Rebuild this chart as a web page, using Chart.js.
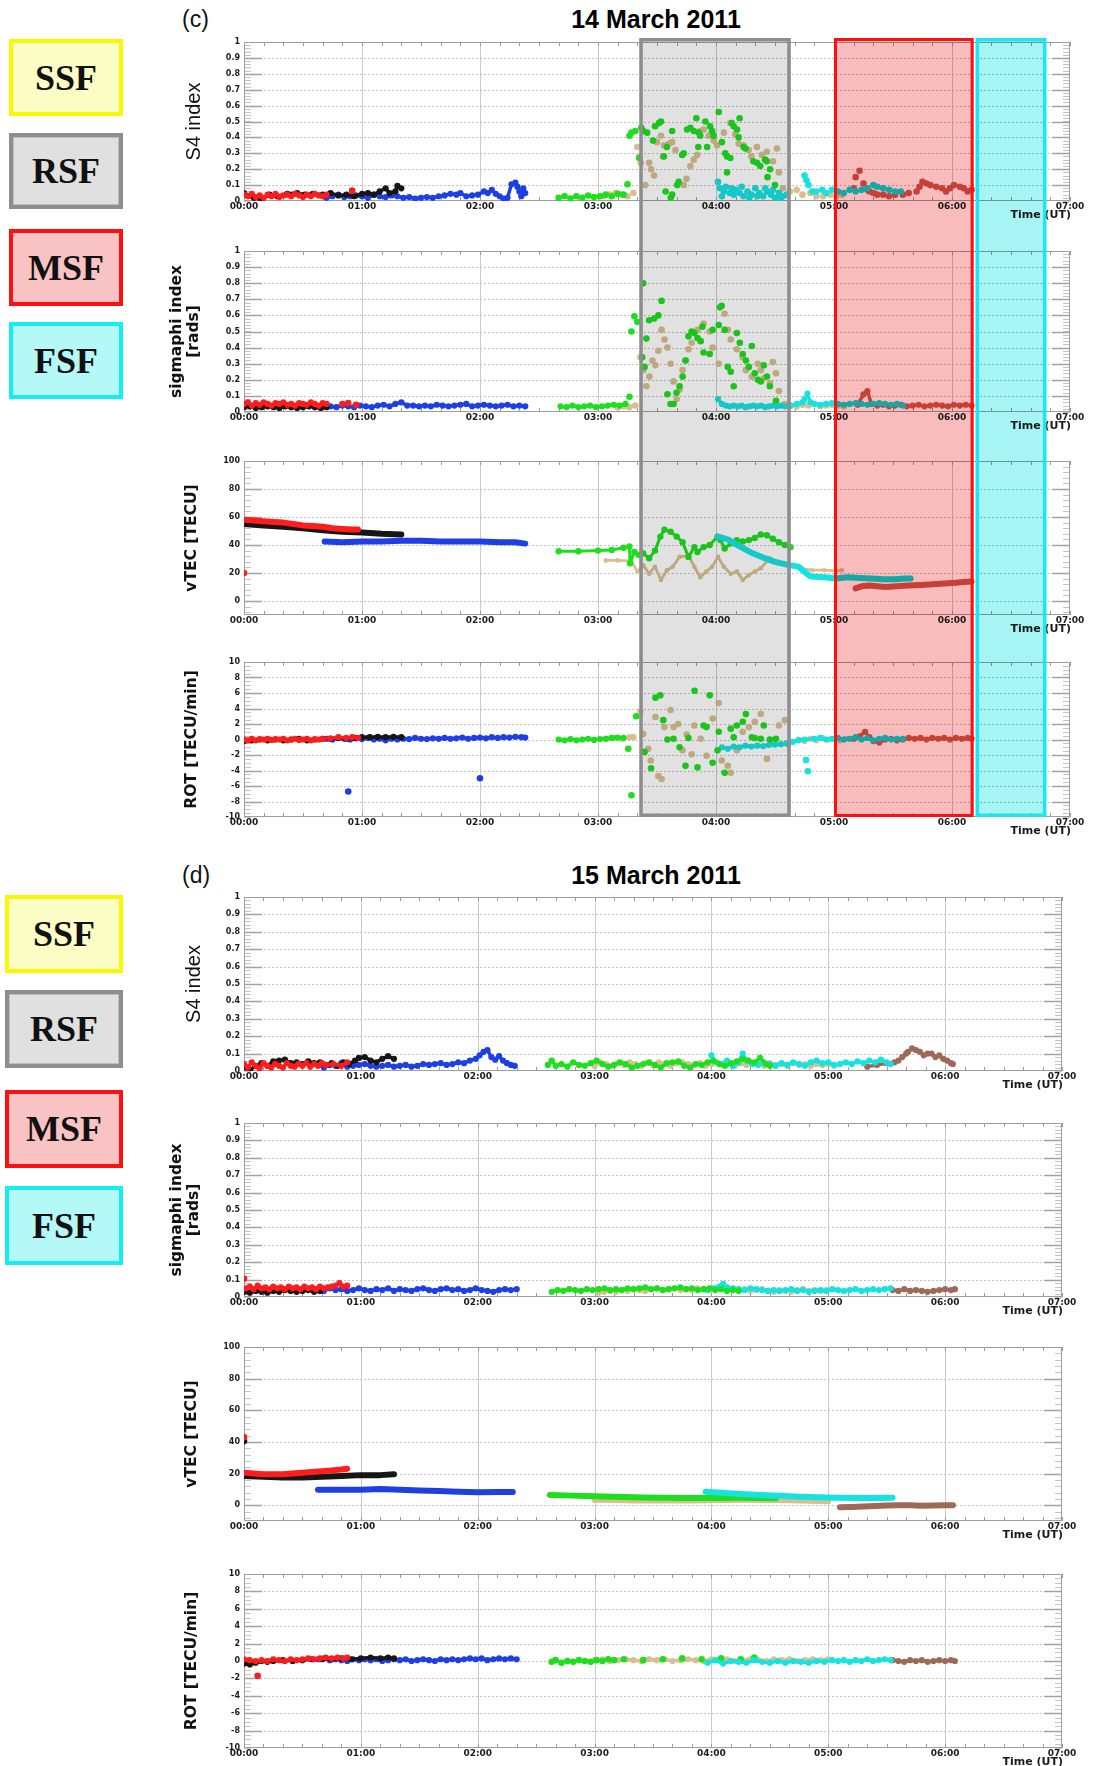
<!DOCTYPE html>
<html>
<head>
<meta charset="utf-8">
<title>Scintillation and TEC, 14-15 March 2011</title>
<script src="https://cdn.jsdelivr.net/npm/chart.js@4.4.1/dist/chart.umd.min.js"></script>
<style>
  html, body { margin: 0; padding: 0; background: #fff; }
  #page { position: relative; width: 1094px; height: 1766px; overflow: hidden; font-family: "Liberation Sans", Arial, sans-serif; }
  .key { position: absolute; box-sizing: border-box; display: flex; align-items: center; justify-content: center;
         font-family: "Liberation Serif", "Times New Roman", serif; font-weight: bold; font-size: 36px; color: #111; }
  .tag { position: absolute; font-size: 23px; color: #111; line-height: 1; }
  .day { position: absolute; font-size: 25px; font-weight: bold; color: #000; transform: translateX(-50%); white-space: nowrap; line-height: 1; }
  canvas { position: absolute; left: 150px; }
</style>
</head>
<body>
<div id="page"></div>
<script>
// ---------- axis ticks and labels ----------
const hourTicks  = [0, 60, 120, 180, 240, 300, 360, 420];
const hourLabels = ['00:00', '01:00', '02:00', '03:00', '04:00', '05:00', '06:00', '07:00'];
const indexTicks  = [0, 0.1, 0.2, 0.3, 0.4, 0.5, 0.6, 0.7, 0.8, 0.9, 1];
const indexLabels = ['0', '0.1', '0.2', '0.3', '0.4', '0.5', '0.6', '0.7', '0.8', '0.9', '1'];
const tecTicks  = [-10, 0, 20, 40, 60, 80, 100];
const tecLabels = ['', '0', '20', '40', '60', '80', '100'];
const rotTicks  = [-10, -8, -6, -4, -2, 0, 2, 4, 6, 8, 10];
const rotLabels = ['-10', '-8', '-6', '-4', '-2', '0', '2', '4', '6', '8', '10'];

const legendLabels = ['SSF', 'RSF', 'MSF', 'FSF'];
const dayTitles = ['14 March 2011', '15 March 2011'];
const panelTags = ['(c)', '(d)'];

// spread-F intervals on 14 March (minutes after 00:00 UT)
const mar14_spreadF = [['RSF', 201, 278], ['MSF', 300, 371], ['FSF', 372, 408]];

// ---------- 14 March 2011: S4 index ([minute, value]) ----------
const mar14_s4_red = [[0,.04],[2,.03],[4,.045],[6,.025],[8,.035],[10,.02],[12,.04],[14,.03],[16,.045],[18,.025],[20,.035],[22,.04],[24,.03],[26,.045],[28,.035],[30,.025],[32,.04],[34,.03],[36,.045],[38,.035],[40,.03],[42,.04]];
const mar14_s4_red_late = [[55,.065]];
const mar14_s4_black = [[0,.05],[5,.02],[9,.01],[13,.04],[17,.03],[22,.045],[27,.05],[31,.04],[35,.045],[40,.04],[44,.05],[48,.035],[52,.04],[56,.03],[60,.045],[63,.05],[66,.04],[69,.06],[72,.08],[74,.05],[77,.06],[78,.095],[80,.08]];
const mar14_s4_blue = [[42,.02],[45,.03],[48,.04],[51,.025],[54,.03],[57,.035],[60,.03],[63,.02],[66,.04],[69,.03],[72,.025],[75,.035],[78,.03],[81,.02],[84,.025],[87,.015],[90,.02],[93,.025],[96,.02],[99,.03],[102,.035],[105,.045],[108,.04],[110,.05],[113,.03],[116,.035],[119,.04],[122,.06],[124,.05],[126,.07],[128,.045],[130,.03],[132,.015],[134,.02],[136,.105],[138,.115],[139,.09],[140,.06],[141,.03],[142,.08],[143,.05]];
const mar14_s4_green = [[160,.02],[163,.03],[166,.015],[169,.03],[172,.02],[175,.035],[178,.025],[181,.03],[184,.04],[187,.03],[190,.045],[193,.04],[195,.105],
  [196,.41],[197,.43],[199,.44],[201,.27],[202,.46],[203,.44],[205,.43],[208,.38],[209,.47],[211,.49],[212,.5],[213.5,.28],[215,.34],[217.7,.44],[214.4,.06],[217.7,.04],[217,.02],[220.3,.1],[221,.12],[222.8,.29],[223.6,.3],[225.3,.45],[227,.46],[228.7,.44],[230,.52],[231.2,.43],[232,.41],[231,.34],[234.6,.5],[237,.47],[238,.44],[238.8,.41],[235.5,.34],[241.4,.56],[243,.37],[244.7,.3],[245.6,.28],[247.3,.27],[248,.49],[249,.47],[250.7,.45],[252,.52],[251.5,.4],[245.6,.18],[254,.34],[255,.33],[259,.25],[260.8,.24],[262.5,.22],[265,.26],[265.8,.25],[266.2,.15],[267.5,.2],[270,.1]];
const mar14_s4_tan = [[183,.03],[186,.04],[189,.05],[192,.04],[195,.03],[198,.05],[200,.34],[201,.28],[201.7,.24],[204,.1],[206,.24],[207,.2],[208.5,.16],[210,.37],[212,.41],[213.5,.35],[216,.36],[217.7,.37],[219.4,.32],[213,.28],[223.6,.1],[225,.14],[227,.22],[228.7,.26],[230.4,.29],[232,.44],[233.8,.45],[236.3,.41],[238.8,.38],[240.5,.35],[244,.43],[247.3,.49],[249.8,.42],[251.5,.36],[254,.35],[256.6,.32],[258,.28],[260.8,.34],[263.3,.29],[265.8,.31],[269,.25],[271,.33],[272,.18],[274,.08],[277.6,.06],[281,.07],[284,.04],[288,.05],[291,.03],[294.5,.03],[298,.04],[301,.03],[304,.04]];
const mar14_s4_cyan = [[241,.12],[242,.08],[243,.03],[244,.06],[245,.09],[247,.05],[248,.08],[249,.04],[250,.07],[252,.05],[253,.09],[254,.03],[256,.06],[257,.02],[258,.04],[260,.08],[261,.03],[262,.05],[264,.03],[265,.08],[266,.06],[268,.04],[269,.07],[270,.02],[272,.05],[273,.02],[274,.03],[276,.04],[285,.16],[286,.13],[287,.1],[289,.06],[291,.06],[294,.07],[296,.05],[299,.07],[302,.06],[305,.05],[308,.07],[311,.06],[314,.07],[317,.08],[320,.1],[322,.09],[325,.08],[328,.07],[331,.06],[334,.06]];
const mar14_s4_indian = [[310,.08],[311,.15],[313,.19],[315,.11],[317,.07],[318,.06],[320,.05],[322,.04],[325,.04],[328,.03],[331,.04],[335,.04],[338,.05],[342,.06],[343.5,.09],[345,.12],[347,.11],[349,.1],[352,.09],[355,.08],[357,.06],[359,.08],[361,.1],[364,.09],[366,.08],[368,.06],[370,.07]];

// ---------- 14 March 2011: sigmaphi index ----------
const mar14_sp_red = [[0,.05],[2,.06],[4,.04],[6,.055],[8,.045],[10,.06],[12,.05],[14,.04],[16,.055],[18,.05],[20,.06],[22,.045],[24,.05],[26,.04],[28,.055],[30,.05],[32,.045],[34,.06],[36,.05],[38,.04],[40,.055],[42,.05]];
const mar14_sp_red_late = [[50,.05],[53,.055],[57,.045]];
const mar14_sp_black = [[0,.03],[3,.035],[6,.025],[9,.03],[12,.035],[15,.03],[18,.025],[21,.035],[24,.03],[27,.025],[30,.03],[33,.035],[36,.03],[39,.025],[42,.03]];
const mar14_sp_blue = [[44,.035],[47,.03],[50,.04],[53,.035],[56,.03],[59,.04],[62,.035],[65,.03],[68,.04],[71,.045],[74,.035],[77,.05],[80,.06],[83,.04],[86,.04],[89,.035],[92,.04],[95,.035],[98,.045],[101,.04],[104,.035],[107,.04],[110,.045],[113,.05],[116,.035],[119,.04],[122,.045],[125,.04],[128,.035],[131,.04],[134,.045],[137,.035],[140,.04],[143,.035]];
const mar14_sp_green_low = [[161,.035],[164,.03],[167,.04],[170,.03],[173,.035],[176,.04],[179,.03],[182,.035],[185,.04],[188,.045],[191,.04],[194,.05]];
const mar14_sp_green = [[196,.095],
  [197,.5],[198.5,.595],[200,.56],[203,.8],[202.5,.34],[203.7,.28],[204.6,.456],[206,.57],[208.6,.58],[210.7,.6],[212.3,.69],[215.3,.11],[216.9,.05],[218.4,.05],[219.9,.12],[221.5,.16],[223,.22],[224.5,.32],[226,.47],[227.6,.5],[229,.49],[230.6,.46],[232.2,.44],[233.1,.53],[233.7,.37],[236.8,.36],[238.3,.51],[241.4,.54],[242,.65],[242.9,.66],[244.4,.51],[246,.28],[247.5,.25],[249,.16],[250.6,.49],[252.1,.43],[253.6,.36],[255.2,.32],[256.7,.28],[258.2,.41],[259.7,.24],[261.3,.2],[262.8,.19],[264.3,.29],[265.9,.22],[267.4,.16],[270.5,.07]];
const mar14_sp_tan = [[190,.03],[193,.035],[196,.03],[199,.04],[201.5,.34],[203,.26],[204.6,.16],[206.1,.22],[207.7,.32],[209.2,.29],[210.7,.38],[212.3,.51],[213.8,.45],[215.3,.4],[216.9,.3],[218.4,.19],[220,.08],[221.5,.14],[223,.26],[224.5,.32],[226,.39],[227.6,.43],[230.6,.51],[233.7,.55],[236.8,.5],[238.3,.4],[241.4,.3],[244.4,.61],[246,.51],[247.5,.45],[250.6,.39],[253.6,.34],[255.2,.26],[258.2,.22],[261.3,.3],[262.8,.26],[264.3,.21],[267.4,.18],[268.9,.31],[270.5,.24],[272,.13],[275,.05],[278,.04],[281,.035],[284,.045],[287,.04],[290,.05],[293,.035],[296,.04],[299,.045],[302,.04],[305,.035]];
const mar14_sp_cyan = [[241,.08],[243,.05],[245,.04],[247,.035],[249,.04],[251,.035],[253,.04],[255,.03],[257,.035],[259,.04],[261,.035],[263,.04],[265,.03],[267,.035],[269,.04],[271,.035],[273,.04],[275,.035],[278,.04],[281,.05],[284,.06],[285,.08],[286.5,.115],[288,.06],[290,.05],[293,.045],[296,.05],[299,.055],[302,.05],[305,.045],[308,.05],[311,.055],[314,.05],[317,.045],[320,.05],[323,.055],[326,.05],[329,.045],[332,.05],[335,.04]];
const mar14_sp_indian = [[312,.045],[315,.11],[317,.13],[319,.05],[322,.04],[325,.045],[328,.035],[331,.04],[334,.045],[337,.035],[340,.04],[343,.045],[346,.035],[349,.04],[352,.045],[355,.04],[358,.035],[361,.045],[364,.04],[367,.045],[370,.04]];

// ---------- 14 March 2011: vTEC [TECU] ----------
const mar14_tec_red = [[0,58],[5,57.5],[10,57],[15,56.5],[20,56],[25,55],[30,54],[35,53.5],[40,53],[45,52],[50,51.5],[55,51],[58,51]];
const mar14_tec_red_start = [[0,20]];
const mar14_tec_black = [[0,55],[10,54],[20,53],[30,52],[40,50.5],[50,49.5],[60,49],[70,48],[80,47.5]];
const mar14_tec_blue = [[41,42.5],[50,42],[60,42.5],[70,42.5],[80,43],[90,43],[100,42.5],[110,42.5],[120,42.5],[130,42],[138,42],[143,41]];
const mar14_tec_green = [[160,35.5],[170,35.5],[180,36],[187,36.5],[193,38],[196,39],[196.3,27],[198.5,35],[200.6,33],[203,34],[206,30.5],[209,36],[211.7,46],[213.8,51],[216.9,49.5],[220,46],[223,42],[226,31.5],[229,38.5],[230.6,35],[233.7,38.5],[236.8,40],[240.8,46],[242.3,43.5],[244.4,37.5],[247.5,41],[250.6,43.5],[253.6,42.5],[256.7,43.5],[259.7,45],[262.8,47.5],[265.9,47],[268.9,44.5],[272,42],[275,40],[278,38.5]];
const mar14_tec_tan = [[184,29],[190,29],[197,28.5],[200,21],[203,25.5],[206,19.5],[209,24.5],[212,15],[215,22],[218,24.5],[221.5,31.5],[226,32.5],[229,24.5],[232,17],[235,21],[238,24.5],[241,31.5],[244,24.5],[247.5,19.5],[250.6,21],[253.6,15],[256.7,18.5],[259.7,21],[262.8,23.5],[267.4,30.5],[272,28],[276.6,25.5],[282.7,23.5],[288.8,22],[295,22],[301,21.5],[304,22]];
const mar14_tec_cyan = [[241,46],[246,44],[252,39],[258,34.5],[264,31],[270,28],[276,26],[282,24.5],[285,21],[288,17.5],[295,17],[301,16],[307,17],[313,16.5],[319,16],[325,15.5],[331,15.5],[336,16],[339,16]];
const mar14_tec_indian = [[311,9],[314,10.5],[318,11],[322,10.5],[326,10],[332,10.5],[338,11],[344,11.5],[350,12],[356,12.5],[362,13],[366,13.5],[370,14]];

// ---------- 14 March 2011: ROT [TECU/min] ----------
const mar14_rot_red = [[0,0],[2,-.1],[4,.1],[6,-.1],[8,.05],[10,0],[12,.1],[14,-.05],[16,.05],[18,0],[20,.1],[22,-.1],[24,0],[26,.1],[28,-.05],[30,0],[32,.1],[34,-.1],[36,.05],[38,0],[40,.1],[44,.15],[48,.3],[52,.2],[55,.3],[58,.2]];
const mar14_rot_black = [[0,-.2],[4,-.1],[8,0],[12,-.1],[16,0],[20,-.1],[24,0],[28,.1],[32,-.1],[36,0],[40,.1],[44,.1],[48,.2],[52,.1],[56,.2],[60,.3],[64,.3],[68,.35],[72,.3],[76,.35],[80,.3]];
const mar14_rot_blue = [[42,.1],[45,0],[48,.2],[51,.1],[54,0],[57,.15],[60,.05],[63,.2],[66,0],[69,.1],[72,-.1],[75,.1],[78,0],[81,.1],[84,.05],[87,.2],[90,.1],[93,.05],[96,.15],[99,.1],[102,.2],[105,.1],[108,.15],[111,.25],[114,.1],[117,.2],[120,.25],[123,.15],[126,.3],[129,.2],[132,.3],[135,.25],[138,.35],[141,.3],[143,.25]];
const mar14_rot_blue_spikes = [[53,-6.7],[120,-5.0]];
const mar14_rot_green_low = [[160,0],[163,-.1],[166,.05],[169,-.1],[172,0],[175,.1],[178,-.05],[181,.05],[184,.1],[187,.2],[190,.25],[193,.2]];
const mar14_rot_green = [[195.4,-1.2],[197,-7.2],[199.4,3.0],[203.7,-1.6],[207,-3.7],[209.2,5.4],[211.7,5.7],[213.2,2.5],[215.3,0],[218.4,.1],[221.5,-1.0],[224.5,-3.4],[226,.2],[229.1,6.3],[230.6,-3.6],[233.7,1.8],[235.2,1.6],[236.8,5.7],[238.3,-3.0],[240.8,-1.4],[241.4,1.0],[244.4,-4.3],[247.5,1.4],[249,.3],[250.6,1.8],[253.6,2.3],[255.2,3.3],[258.2,.3],[259.7,.2],[262.8,.1],[264.3,1.8],[267.4,0],[270.5,.1]];
const mar14_rot_tan = [[184,.1],[188,.2],[192,.1],[196,.3],[198,.3],[201.5,3.6],[203,.7],[205.5,-1.2],[206.8,-2.7],[209.2,2.9],[210.7,-4.7],[212.3,-5.1],[213.8,1.6],[216.9,3.8],[218.4,1.6],[220.8,2.0],[223,-1.4],[225.1,.65],[227.6,-1.9],[229,1.8],[232.2,.1],[235.2,-2.1],[238.3,2.7],[241.4,4.7],[242.9,-2.7],[246,-3.4],[247.5,-4.3],[250.6,-1.4],[253.6,1.0],[256.7,1.6],[259.7,2.3],[262.8,3.3],[265.9,-2.5],[268.9,-.1],[272,1.8],[275,2.5],[276.6,-.6]];
const mar14_rot_tan_tail = [[279,-.3],[282,0],[285,-.2],[288,.1],[291,-.1],[294,.2],[297,0],[300,.1],[303,-.1],[306,.1]];
const mar14_rot_cyan = [[243,-1.0],[246,-1.2],[249,-.9],[252,-1.0],[255,-.8],[258,-.9],[261,-.8],[264,-.85],[267,-.7],[270,-.65],[273,-.6],[276,-.5],[279,-.3],[282,-.1],[285,0],[290,.1],[293,.2],[296,0],[299,.1],[302,.2],[305,0],[308,.1],[311,.3],[314,0],[317,.2],[320,-.1],[323,.1],[326,.2],[329,0],[332,.1],[335,.1]];
const mar14_rot_cyan_spikes = [[285.8,-2.65],[286.7,-4.1]];
const mar14_rot_indian = [[310,.1],[313,.4],[315.8,1.0],[318,.3],[320,-.2],[323,-.4],[326,0],[329,.1],[332,-.1],[335,0],[338,.2],[341,.1],[344,.2],[347,0],[350,.2],[353,.1],[356,.2],[359,0],[362,.2],[365,.1],[368,.2],[370,.1]];

// ---------- 15 March 2011: S4 index ----------
const mar15_s4_red = [[0,.04],[2,.02],[4,.05],[6,.03],[8,.015],[10,.045],[12,.03],[14,.02],[16,.04],[18,.03],[20,.02],[22,.045],[24,.03],[26,.025],[28,.04],[30,.03],[32,.045],[34,.025],[36,.04],[38,.03],[40,.045],[42,.035],[46,.04],[50,.03],[53,.05]];
const mar15_s4_black = [[0,.02],[3,.005],[6,.03],[9,.045],[12,.03],[15,.055],[18,.06],[21,.065],[24,.045],[27,.05],[30,.04],[33,.055],[36,.045],[39,.05],[42,.035],[45,.045],[48,.03],[51,.05],[54,.04],[57,.06],[59,.075],[62,.08],[65,.06],[68,.05],[71,.07],[74,.085],[77,.07]];
const mar15_s4_blue = [[38,.04],[41,.02],[44,.035],[47,.03],[50,.045],[53,.025],[56,.03],[59,.035],[62,.04],[65,.03],[68,.025],[71,.03],[74,.035],[77,.025],[80,.03],[83,.035],[86,.025],[89,.03],[92,.04],[95,.035],[98,.04],[101,.045],[104,.035],[107,.04],[110,.05],[113,.045],[116,.06],[119,.07],[121,.09],[123,.11],[125,.12],[127,.08],[129,.065],[131,.085],[133,.06],[135,.045],[137,.035],[139,.03]];
const mar15_s4_green = [[156,.035],[158,.06],[160,.03],[163,.04],[166,.025],[169,.05],[172,.035],[175,.03],[178,.045],[181,.06],[184,.04],[187,.025],[190,.035],[193,.05],[196,.04],[199,.02],[202,.03],[205,.04],[208,.05],[211,.035],[214,.02],[217,.045],[220,.05],[223,.055],[226,.03],[229,.02],[232,.04],[235,.035],[238,.05],[241,.06],[244,.04],[247,.03],[250,.045],[253,.055],[256,.07],[259,.06],[262,.05],[265,.075],[268,.04],[270,.03]];
const mar15_s4_tan = [[180,.03],[183,.05],[186,.04],[189,.03],[192,.045],[195,.035],[198,.05],[201,.04],[204,.03],[207,.045],[210,.035],[213,.05],[216,.04],[219,.03],[222,.045],[225,.05],[228,.04],[231,.035],[234,.045],[237,.03],[240,.04],[243,.05],[246,.035],[249,.04],[252,.03],[255,.045],[258,.035],[261,.04],[264,.05],[267,.03],[270,.045],[273,.035],[276,.04],[279,.03],[282,.045],[285,.035],[288,.04],[291,.03],[294,.04],[297,.035],[300,.04],[303,.03]];
const mar15_s4_cyan = [[240,.09],[242,.05],[245,.04],[248,.06],[251,.03],[254,.05],[256,.1],[258,.06],[261,.04],[264,.035],[267,.05],[270,.04],[273,.03],[276,.045],[279,.035],[282,.05],[285,.04],[288,.03],[291,.05],[294,.06],[297,.045],[300,.05],[303,.035],[306,.04],[309,.05],[312,.04],[315,.055],[318,.045],[321,.06],[324,.05],[327,.065],[330,.05],[332,.04]];
const mar15_s4_brown = [[320,.025],[325,.035],[330,.045],[334,.05],[336,.06],[338,.08],[340,.1],[341,.11],[343,.13],[345,.12],[347,.11],[349,.09],[351,.1],[353,.1],[355,.08],[357,.09],[359,.07],[361,.06],[363,.045],[364,.04]];

// ---------- 15 March 2011: sigmaphi index ----------
const mar15_sp_red_start = [[0,.105]];
const mar15_sp_red = [[1,.05],[3,.06],[5,.045],[7,.065],[9,.05],[11,.055],[13,.045],[15,.06],[17,.05],[19,.055],[21,.045],[23,.06],[25,.05],[27,.055],[29,.045],[31,.06],[33,.05],[35,.055],[37,.045],[39,.06],[41,.05],[43,.055],[45,.06],[47,.065],[49,.08],[51,.06],[53,.065]];
const mar15_sp_black = [[0,.03],[3,.025],[6,.035],[9,.03],[12,.025],[15,.035],[18,.03],[21,.04],[24,.035],[27,.03],[30,.035],[33,.04],[36,.03],[39,.035]];
const mar15_sp_blue = [[38,.04],[41,.035],[44,.05],[47,.04],[50,.045],[53,.035],[56,.04],[59,.05],[62,.04],[65,.035],[68,.045],[71,.04],[74,.05],[77,.035],[80,.045],[83,.04],[86,.035],[89,.045],[92,.05],[95,.04],[98,.035],[101,.045],[104,.05],[107,.04],[110,.045],[113,.035],[116,.04],[119,.05],[122,.04],[125,.035],[128,.03],[131,.04],[134,.045],[137,.04],[140,.045]];
const mar15_sp_green = [[158,.03],[161,.04],[164,.035],[167,.045],[170,.04],[173,.035],[176,.045],[179,.04],[182,.045],[185,.05],[188,.04],[191,.045],[194,.04],[197,.05],[200,.045],[203,.05],[206,.055],[209,.045],[212,.05],[215,.04],[218,.045],[221,.05],[224,.055],[227,.045],[230,.05],[233,.04],[236,.045],[239,.05],[242,.04],[245,.045],[248,.035],[251,.04],[254,.035]];
const mar15_sp_tan = [[182,.025],[185,.03],[188,.035],[191,.03],[194,.04],[197,.035],[200,.045],[203,.04],[206,.035],[209,.045],[212,.05],[215,.04],[218,.045],[221,.05],[224,.04],[227,.045],[230,.04],[233,.05],[236,.045],[239,.04],[242,.05],[245,.055],[248,.045],[251,.05],[254,.04],[257,.045],[260,.035],[263,.04],[266,.045],[269,.035],[272,.03],[275,.04],[278,.035],[281,.03],[284,.04],[287,.045],[290,.035],[293,.04],[296,.035],[299,.04]];
const mar15_sp_cyan = [[238,.04],[241,.05],[244,.06],[246,.075],[248,.055],[251,.05],[254,.045],[257,.04],[260,.05],[263,.045],[266,.04],[269,.035],[272,.04],[275,.035],[278,.04],[281,.045],[284,.035],[287,.04],[290,.03],[293,.035],[296,.04],[299,.035],[302,.045],[305,.04],[308,.035],[311,.04],[314,.045],[317,.035],[320,.04],[323,.045],[326,.04],[329,.045],[332,.05]];
const mar15_sp_brown = [[333,.04],[336,.035],[339,.045],[342,.035],[345,.04],[348,.035],[351,.03],[354,.035],[357,.04],[360,.045],[363,.04],[365,.045]];

// ---------- 15 March 2011: vTEC [TECU] ----------
const mar15_tec_red = [[0,20.5],[5,20],[10,19.5],[15,19.5],[20,19.5],[25,20],[30,20.5],[35,21],[40,21.5],[45,22],[50,22.5],[53,23]];
const mar15_tec_red_start = [[0,43]];
const mar15_tec_black = [[0,18.5],[10,18],[20,17.5],[30,17.5],[40,18],[50,18.5],[60,19],[70,19],[77,19.5]];
const mar15_tec_black_start = [[0,40.5]];
const mar15_tec_blue = [[38,9.7],[50,9.7],[60,9.7],[70,10.2],[80,9.8],[90,9.3],[100,9],[110,8.5],[120,8.2],[130,8.3],[138,8.3]];
const mar15_tec_green = [[157,6.5],[165,6.2],[175,5.8],[185,5.5],[195,5.2],[205,4.9],[215,4.7],[225,4.5],[235,4.5],[245,4.6],[255,4.7],[265,4.6],[273,4.4]];
const mar15_tec_tan = [[180,3.4],[190,3.2],[200,3],[215,3],[230,3],[245,3.2],[260,3.4],[275,3.2],[290,2.8],[300,2.5]];
const mar15_tec_cyan = [[237,8.5],[245,7.8],[255,7.1],[265,6.4],[275,5.9],[285,5.4],[295,5],[305,4.7],[315,4.5],[325,4.6],[333,4.7]];
const mar15_tec_brown = [[306,-1.3],[312,-1.1],[318,-.8],[324,-.5],[330,-.2],[336,0],[342,-.1],[348,-.3],[354,-.2],[360,0],[364,0]];

// ---------- 15 March 2011: ROT [TECU/min] ----------
const mar15_rot_red = [[0,.2],[3,.1],[6,0],[9,.1],[12,0],[15,.2],[18,.1],[21,0],[24,.2],[27,.1],[30,.2],[33,.3],[36,.2],[39,.3],[42,.4],[45,.3],[48,.4],[51,.3],[53,.4]];
const mar15_rot_red_spike = [[7,-1.7]];
const mar15_rot_black = [[0,-.3],[3,-.4],[6,-.2],[9,0],[12,-.1],[15,0],[20,.1],[25,0],[30,.1],[35,.2],[40,.2],[45,.2],[50,.3],[55,.2],[60,.3],[65,.4],[70,.3],[74,.4],[77,.3]];
const mar15_rot_blue = [[38,.2],[41,.3],[44,.1],[47,.2],[50,.1],[53,0],[56,.2],[59,.1],[62,.2],[65,.1],[68,.2],[71,0],[74,.1],[77,.2],[80,.1],[83,.2],[86,0],[89,.1],[92,.2],[95,.1],[98,0],[101,.2],[104,.1],[107,.2],[110,.1],[113,.2],[116,.3],[119,.2],[122,.3],[125,.1],[128,.2],[131,.3],[134,.2],[137,.3],[140,.2]];
const mar15_rot_green = [[158,-.1],[160,.1],[163,-.2],[166,0],[169,-.1],[172,.1],[175,0],[178,-.1],[181,.1],[184,0],[187,.2],[190,.1],[195,.2],[205,.1],[215,.2],[225,.3],[235,.2],[245,.3],[255,.2],[262,.4]];
const mar15_rot_tan = [[180,.1],[184,.2],[188,0],[192,.1],[196,.2],[200,.1],[204,0],[208,.2],[212,.1],[216,.2],[220,0],[224,.1],[228,.2],[232,.1],[236,0],[240,.2],[244,.1],[248,.2],[252,0],[256,.1],[260,.2],[264,.1],[268,0],[272,.2],[276,.1],[280,.2],[284,0],[288,.1],[292,.2],[296,.1],[300,.2]];
const mar15_rot_cyan = [[238,-.2],[242,.1],[246,-.3],[250,0],[254,-.1],[258,-.2],[262,.1],[266,-.1],[270,-.2],[274,0],[278,-.2],[282,0],[286,-.1],[290,-.2],[294,0],[298,-.1],[302,.1],[305,0],[308,.1],[311,-.1],[314,.1],[317,0],[320,.2],[323,0],[326,.1],[329,.2],[332,.1]];
const mar15_rot_brown = [[333,.1],[336,0],[339,-.1],[342,.1],[345,0],[348,.1],[351,-.1],[354,0],[357,.1],[360,0],[363,.1],[365,0]];

// ---------- styling ----------
const COLORS = { red: '#ff1c1c', black: '#161616', blue: '#1e3fe4', green: '#1edf1e', tan: '#d8bf8f',
                 cyan: '#17e2e2', indian: '#cb5849', brown: '#9d6a58' };
const KINDS = {
  dots:  { showLine: false, pointRadius: 3.3 },
  band:  { showLine: true, borderWidth: 3.5, pointRadius: 3.1 },
  curve: { showLine: true, borderWidth: 6, pointRadius: 0 },
  jag:   { showLine: true, borderWidth: 2.8, pointRadius: 2.3 },
  beads: { showLine: true, borderWidth: 3, pointRadius: 3.2 }
};
const SPREAD_STYLE = {
  RSF: { fill: '#e1e1e1', edge: '#8d8d8d', w: 3.5 },
  MSF: { fill: '#f8bcbc', edge: '#ff0f0f', w: 3 },
  FSF: { fill: '#a6f4f4', edge: '#1ee6f0', w: 3.5 },
  SSF: { fill: '#ffffc4', edge: '#ffff00', w: 4 }
};
const KEY_STYLE = {
  SSF: 'background:#fdfdc6;border:4px solid #f8f800;',
  RSF: 'background:#e0e0e0;border:4px solid #8e8e8e;box-shadow:inset 0 0 0 1px #bdbdbd;',
  MSF: 'background:#f9c3c3;border:4px solid #ff1010;',
  FSF: 'background:#b4f8f8;border:4px solid #12eef2;'
};

const TITLE_BOLD = { family: '"DejaVu Sans", sans-serif', size: 15.5, weight: 'bold', lineHeight: 1.1 };
const AXES = {
  s4:  { min: 0, max: 1, ticks: indexTicks, labels: indexLabels, minor: 0.02,
         title: 'S4 index', font: { family: '"Liberation Sans", Arial, sans-serif', size: 20, weight: 'normal', lineHeight: 1.2 }, pad: 32 },
  sp:  { min: 0, max: 1, ticks: indexTicks, labels: indexLabels, minor: 0.02,
         title: ['sigmaphi index', '[rads]'], font: TITLE_BOLD, pad: 18 },
  tec: { min: -10, max: 100, ticks: tecTicks, labels: tecLabels, minor: 4,
         title: 'vTEC [TECU]', font: TITLE_BOLD, pad: 33 },
  rot: { min: -10, max: 10, ticks: rotTicks, labels: rotLabels, minor: 0.5,
         title: 'ROT [TECU/min]', font: TITLE_BOLD, pad: 33 }
};

function s(data, color, kind) { return { data, color, kind }; }

// ---------- panel layout: [canvas top, canvas bottom, plot top, plot bottom] ----------
const charts = [
  { box: [26, 231, 42, 201], right: 24, axis: 's4', spread: { first: true },
    series: [s(mar14_s4_green,'green','dots'), s(mar14_s4_cyan,'cyan','dots'), s(mar14_s4_red_late,'red','dots'), s(mar14_s4_red,'red','band'),
             s(mar14_s4_black,'black','band'), s(mar14_s4_blue,'blue','band'), s(mar14_s4_tan,'tan','dots'), s(mar14_s4_indian,'indian','dots')] },
  { box: [231, 442, 251, 412], right: 24, axis: 'sp', spread: {},
    series: [s(mar14_sp_green,'green','dots'), s(mar14_sp_green_low,'green','band'), s(mar14_sp_cyan,'cyan','band'), s(mar14_sp_red_late,'red','dots'),
             s(mar14_sp_red,'red','band'), s(mar14_sp_black,'black','band'), s(mar14_sp_blue,'blue','band'), s(mar14_sp_tan,'tan','dots'),
             s(mar14_sp_indian,'indian','band')] },
  { box: [442, 647, 461, 615], right: 24, axis: 'tec', spread: {},
    series: [s(mar14_tec_red_start,'red','dots'), s(mar14_tec_red,'red','curve'), s(mar14_tec_black,'black','curve'), s(mar14_tec_blue,'blue','curve'),
             s(mar14_tec_cyan,'cyan','curve'), s(mar14_tec_green,'green','beads'), s(mar14_tec_tan,'tan','jag'), s(mar14_tec_indian,'indian','curve')] },
  { box: [647, 850, 662, 817], right: 24, axis: 'rot', spread: { last: true },
    series: [s(mar14_rot_green,'green','dots'), s(mar14_rot_green_low,'green','band'), s(mar14_rot_cyan_spikes,'cyan','dots'), s(mar14_rot_cyan,'cyan','band'),
             s(mar14_rot_red,'red','band'), s(mar14_rot_black,'black','band'), s(mar14_rot_blue_spikes,'blue','dots'), s(mar14_rot_blue,'blue','band'),
             s(mar14_rot_tan,'tan','dots'), s(mar14_rot_tan_tail,'tan','band'), s(mar14_rot_indian,'indian','band')] },

  { box: [880, 1100, 897, 1071], right: 32, axis: 's4',
    series: [s(mar15_s4_red,'red','band'), s(mar15_s4_black,'black','band'), s(mar15_s4_blue,'blue','band'), s(mar15_s4_green,'green','band'),
             s(mar15_s4_cyan,'cyan','band'), s(mar15_s4_tan,'tan','band'), s(mar15_s4_brown,'brown','band')] },
  { box: [1100, 1330, 1123, 1297], right: 32, axis: 'sp',
    series: [s(mar15_sp_red_start,'red','dots'), s(mar15_sp_red,'red','band'), s(mar15_sp_black,'black','band'), s(mar15_sp_blue,'blue','band'),
             s(mar15_sp_green,'green','band'), s(mar15_sp_cyan,'cyan','band'), s(mar15_sp_tan,'tan','band'), s(mar15_sp_brown,'brown','band')] },
  { box: [1330, 1555, 1347, 1521], right: 32, axis: 'tec',
    series: [s(mar15_tec_red_start,'red','dots'), s(mar15_tec_black_start,'black','dots'), s(mar15_tec_red,'red','curve'), s(mar15_tec_black,'black','curve'),
             s(mar15_tec_blue,'blue','curve'), s(mar15_tec_cyan,'cyan','curve'), s(mar15_tec_green,'green','curve'), s(mar15_tec_tan,'tan','curve'),
             s(mar15_tec_brown,'brown','curve')] },
  { box: [1555, 1766, 1574, 1748], right: 32, axis: 'rot',
    series: [s(mar15_rot_red_spike,'red','dots'), s(mar15_rot_red,'red','band'), s(mar15_rot_black,'black','band'), s(mar15_rot_blue,'blue','band'),
             s(mar15_rot_cyan,'cyan','band'), s(mar15_rot_green,'green','dots'), s(mar15_rot_tan,'tan','band'), s(mar15_rot_brown,'brown','band')] }
];

// ---------- plugins ----------
function seg(ctx, x0, y0, x1, y1) { ctx.beginPath(); ctx.moveTo(x0, y0); ctx.lineTo(x1, y1); ctx.stroke(); }

// frame, grid, edge ticks and the time caption, drawn beneath the data
const framePlugin = {
  id: 'frame',
  beforeDatasetsDraw(chart, args, opts) {
    const { ctx, chartArea: a, scales: { x, y } } = chart;
    const ax = AXES[opts.axis];
    ctx.save();
    ctx.lineWidth = 1;
    ctx.strokeStyle = '#cbcbcb';
    for (const h of hourTicks) {
      if (h <= x.min || h >= x.max) continue;
      const px = Math.round(x.getPixelForValue(h)) + 0.5;
      seg(ctx, px, a.top, px, a.bottom);
    }
    const majors = ax.ticks.filter(v => v > ax.min && v < ax.max);
    ctx.setLineDash([2, 2]);
    ctx.strokeStyle = '#c2c2c2';
    for (const v of majors) {
      const py = Math.round(y.getPixelForValue(v)) + 0.5;
      seg(ctx, a.left, py, a.right, py);
    }
    ctx.setLineDash([]);
    ctx.strokeStyle = '#c4c4c4';
    const first = Math.ceil(ax.min / ax.minor - 1e-9) * ax.minor;
    for (let v = first; v <= ax.max + 1e-9; v += ax.minor) {
      const py = Math.round(y.getPixelForValue(v)) + 0.5;
      seg(ctx, a.left, py, a.left + 7, py);
      seg(ctx, a.right - 7, py, a.right, py);
    }
    ctx.strokeStyle = '#a2a2a2';
    ctx.lineWidth = 1.5;
    for (const v of majors) {
      const py = Math.round(y.getPixelForValue(v)) + 0.5;
      seg(ctx, a.left, py, a.left + 18, py);
      seg(ctx, a.right - 18, py, a.right, py);
    }
    ctx.lineWidth = 1;
    ctx.strokeStyle = '#9a9a9a';
    for (let t = x.min; t <= x.max; t += 10) {
      const px = Math.round(x.getPixelForValue(t)) + 0.5;
      seg(ctx, px, a.top, px, a.top + 4);
      seg(ctx, px, a.bottom - 4, px, a.bottom);
    }
    ctx.strokeStyle = '#9e9e9e';
    ctx.strokeRect(a.left + 0.5, a.top + 0.5, a.width - 1, a.height - 1);
    ctx.fillStyle = '#1a1a1a';
    ctx.font = 'bold 11px "DejaVu Sans", sans-serif';
    ctx.textAlign = 'right';
    ctx.textBaseline = 'middle';
    ctx.fillText('Time (UT)', a.right + 1, a.bottom + 14);
    ctx.restore();
  }
};

// spread-F intervals shaded across the stacked panels of 14 March
const spreadPlugin = {
  id: 'spread',
  afterDraw(chart, args, opts) {
    if (!opts.items) return;
    const { ctx, chartArea: a, scales: { x } } = chart;
    const y0 = opts.first ? a.top - 4 : 0;
    const y1 = opts.last ? a.bottom : chart.height;
    for (const [kind, from, to] of opts.items) {
      const st = SPREAD_STYLE[kind];
      const x0 = x.getPixelForValue(from), x1 = x.getPixelForValue(to);
      ctx.save();
      ctx.globalCompositeOperation = 'multiply';
      ctx.fillStyle = st.fill;
      ctx.fillRect(x0, y0, x1 - x0, y1 - y0);
      ctx.restore();
      ctx.save();
      ctx.strokeStyle = st.edge;
      ctx.lineWidth = st.w;
      const h = st.w / 2;
      ctx.beginPath();
      ctx.moveTo(x0 + h, y0); ctx.lineTo(x0 + h, y1);
      ctx.moveTo(x1 - h, y0); ctx.lineTo(x1 - h, y1);
      if (opts.first) { ctx.moveTo(x0, y0 + h); ctx.lineTo(x1, y0 + h); }
      if (opts.last) { ctx.moveTo(x0, y1 - h); ctx.lineTo(x1, y1 - h); }
      ctx.stroke();
      ctx.restore();
    }
  }
};

// ---------- page furniture ----------
const page = document.getElementById('page');
function addKeys(left, width, tops, heights) {
  legendLabels.forEach((lab, i) => {
    const d = document.createElement('div');
    d.className = 'key';
    d.style.cssText = `left:${left}px;top:${tops[i]}px;width:${width}px;height:${heights[i]}px;` + KEY_STYLE[lab];
    d.textContent = lab;
    page.appendChild(d);
  });
}
addKeys(9, 114, [39, 133, 229, 322], [77, 76, 77, 77]);
addKeys(5, 118, [895, 990, 1090, 1186], [78, 78, 78, 79]);

[[182, 8], [182, 864]].forEach(([l, t], i) => {
  const d = document.createElement('div');
  d.className = 'tag'; d.style.left = l + 'px'; d.style.top = t + 'px';
  d.textContent = panelTags[i];
  page.appendChild(d);
});
[7, 863].forEach((t, i) => {
  const d = document.createElement('div');
  d.className = 'day'; d.style.left = '656px'; d.style.top = t + 'px';
  d.textContent = dayTitles[i];
  page.appendChild(d);
});

// ---------- charts ----------
const tickFontX = { family: '"DejaVu Sans", sans-serif', size: 9, weight: 'bold' };
const tickFontY = { family: '"DejaVu Sans", sans-serif', size: 8, weight: 'bold' };

charts.forEach(spec => {
  const [cTop, cBot, pTop, pBot] = spec.box;
  const ax = AXES[spec.axis];
  const cv = document.createElement('canvas');
  cv.width = 944;
  cv.height = cBot - cTop;
  cv.style.top = cTop + 'px';
  page.appendChild(cv);

  const datasets = spec.series.map(sr => Object.assign({
    data: sr.data,
    borderColor: COLORS[sr.color],
    backgroundColor: COLORS[sr.color],
    pointBorderWidth: 0,
    pointHoverRadius: 0,
    borderJoinStyle: 'round',
    borderCapStyle: 'round',
    tension: 0
  }, KINDS[sr.kind]));

  const spread = spec.spread ? Object.assign({ items: mar14_spreadF }, spec.spread) : {};

  new Chart(cv, {
    type: 'scatter',
    data: { datasets },
    options: {
      responsive: false,
      animation: false,
      events: [],
      layout: { padding: { top: pTop - cTop, bottom: cBot - pBot - 18, left: 0, right: spec.right } },
      plugins: {
        legend: { display: false },
        tooltip: { enabled: false },
        frame: { axis: spec.axis },
        spread
      },
      scales: {
        x: {
          type: 'linear', min: 0, max: 420,
          afterBuildTicks: sc => { sc.ticks = hourTicks.map(v => ({ value: v })); },
          afterFit: sc => { sc.height = 18; },
          ticks: {
            autoSkip: false, maxRotation: 0, padding: 0, color: '#1c1c1c', font: tickFontX,
            callback: v => hourLabels[hourTicks.indexOf(v)]
          },
          grid: { display: false, drawTicks: false },
          border: { display: false }
        },
        y: {
          type: 'linear', min: ax.min, max: ax.max,
          afterBuildTicks: sc => { sc.ticks = ax.ticks.map(v => ({ value: v })); },
          afterFit: sc => { sc.width = 94; },
          ticks: {
            autoSkip: false, padding: 4, color: '#1c1c1c', font: tickFontY,
            callback: v => ax.labels[ax.ticks.indexOf(v)]
          },
          grid: { display: false, drawTicks: false },
          border: { display: false },
          title: { display: true, text: ax.title, color: '#111', font: ax.font, padding: { top: ax.pad, bottom: 0 } }
        }
      }
    },
    plugins: [framePlugin, spreadPlugin]
  });
});
</script>
</body>
</html>
